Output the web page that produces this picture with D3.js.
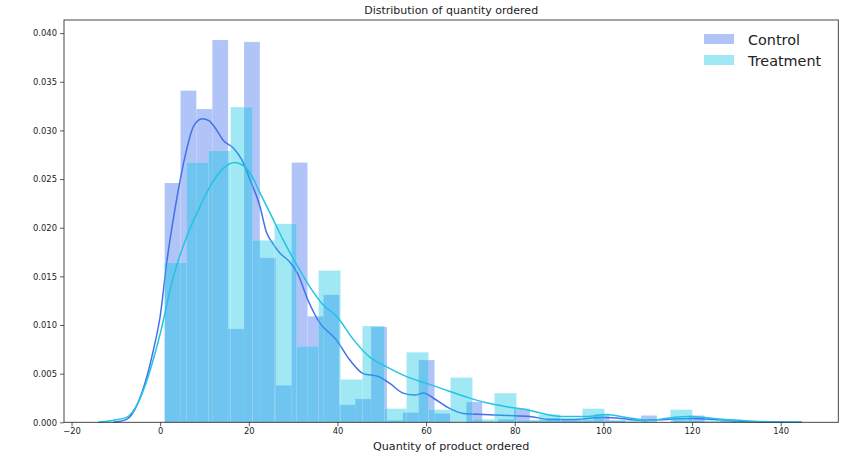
<!DOCTYPE html>
<html>
<head>
<meta charset="utf-8">
<script src="https://cdn.jsdelivr.net/npm/d3@7"></script>
<style>
  body { margin: 0; background: #fff; }
  text { font-family: "DejaVu Sans", sans-serif; fill: #222; }
</style>
</head>
<body>
<svg width="866" height="462"></svg>
<script>
const width = 866;
const height = 462;
const margin = { left: 64, right: 27.7, top: 20, bottom: 39.7 };

// Histogram bins (numpy style: equal width between min and max)
const controlBinRange = [1, 130];
const treatmentBinRange = [1, 130];

// Density per bin
const controlDensity = [
  0.0246, 0.0341, 0.0322, 0.0393, 0.0096, 0.0391, 0.0169, 0.0038, 0.0267,
  0.0109, 0.0131, 0.0018, 0.0024, 0.0098, 0.0002, 0.0010, 0.0064, 0.0009,
  0.0000, 0.0021, 0.0001, 0.0003, 0.0014, 0.0002, 0.0004, 0.0003, 0.0002,
  0.0008, 0.0002, 0.0000, 0.0007, 0.0000, 0.0002, 0.0007, 0.0000, 0.0002
];
const treatmentDensity = [
  0.0164, 0.0267, 0.0279, 0.0324, 0.0187, 0.0204, 0.0078, 0.0156, 0.0044,
  0.0099, 0.0014, 0.0072, 0.0013, 0.0046, 0.0003, 0.0030, 0.0002, 0.0008,
  0.0004, 0.0014, 0.0002, 0.0002, 0.0000, 0.0013, 0.0002, 0.0002
];

// KDE curves, points [x, density]
const controlKde = [
  [-10.6, 0], [-7.6, 0.0003], [-5, 0.0020], [-3, 0.0047], [-1.5, 0.0075],
  [0, 0.0109], [1.5, 0.0165], [3.3, 0.0218], [5.6, 0.0273], [7.5, 0.0304],
  [9.5, 0.0312], [11, 0.0310], [12.5, 0.0302], [14.2, 0.0290], [16.5, 0.0282],
  [18.4, 0.0270], [20.3, 0.0249], [22.5, 0.0222], [24, 0.0195], [25.4, 0.0184],
  [27, 0.0174], [29.2, 0.0165], [31, 0.0153], [33.3, 0.0126], [35.9, 0.0103],
  [39.7, 0.0085], [42.8, 0.0064], [45.8, 0.0050], [49.2, 0.0047], [51.8, 0.0040],
  [54.8, 0.0030], [57.5, 0.0028], [59.4, 0.0030], [61.6, 0.0025], [64.6, 0.0016],
  [68.4, 0.0009], [72.9, 0.0008], [78.2, 0.0007], [83.4, 0.0006], [87.9, 0.0003],
  [93, 0.0003], [99.9, 0.0005], [104, 0.0004], [108, 0.0002], [114, 0.0003],
  [120, 0.0004], [125, 0.0003], [130.8, 0.0001], [137, 0.00003], [144.8, 0]
];
const treatmentKde = [
  [-14, 0], [-10.5, 0.0002], [-7.6, 0.0005], [-5, 0.0020], [-3, 0.0043],
  [0, 0.0091], [3, 0.0150], [6, 0.0191], [8.6, 0.0218], [11.2, 0.0242],
  [14.2, 0.0261], [16.8, 0.0267], [18.7, 0.0264], [20.3, 0.0256], [22.5, 0.0236],
  [24.8, 0.0215], [27.8, 0.0187], [30.8, 0.0162], [33.8, 0.0139], [36.7, 0.0121],
  [39.8, 0.0109], [43.6, 0.0085], [47.3, 0.0067], [51.1, 0.0057], [55.6, 0.0047],
  [60.1, 0.0040], [64.6, 0.0033], [69.1, 0.0026], [73.6, 0.0020], [78.2, 0.0016],
  [82.7, 0.0013], [87.2, 0.0008], [90.2, 0.0006], [96.2, 0.0006], [100.7, 0.0008],
  [105.2, 0.0005], [110.5, 0.0002], [115.7, 0.0005], [119.5, 0.0006], [124.8, 0.0004],
  [130.8, 0.0002], [138.3, 0.00003], [144.8, 0]
];

const xTicks = [-20, 0, 20, 40, 60, 80, 100, 120, 140];
const yTicks = [0, 0.005, 0.01, 0.015, 0.02, 0.025, 0.03, 0.035, 0.04];
const seriesNames = ["Control", "Treatment"];

const colors = {
  control: "#3a6ced",
  treatment: "#12c6e3",
  controlLine: "#4370ea",
  treatmentLine: "#22c4e4",
  spine: "#333"
};

const svg = d3.select("svg");

const x = d3.scaleLinear()
  .domain([-21.7, 153.0])
  .range([margin.left, width - margin.right]);
const y = d3.scaleLinear()
  .domain([0, 0.04135])
  .range([height - margin.bottom, margin.top]);

// turn density list into bins with edges
function makeBins(range, values) {
  const w = (range[1] - range[0]) / values.length;
  return values.map((v, i) => ({ x0: range[0] + i * w, x1: range[0] + (i + 1) * w, v }));
}

const line = d3.line()
  .x(d => x(d[0]))
  .y(d => y(d[1]))
  .curve(d3.curveMonotoneX);

function drawBars(bins, color) {
  svg.append("g")
    .selectAll("rect")
    .data(bins.filter(d => d.v > 0))
    .join("rect")
    .attr("x", d => x(d.x0))
    .attr("width", d => x(d.x1) - x(d.x0))
    .attr("y", d => y(d.v))
    .attr("height", d => y(0) - y(d.v))
    .attr("fill", color)
    .attr("fill-opacity", 0.4)
    .attr("stroke", "#fff")
    .attr("stroke-opacity", 0.25)
    .attr("stroke-width", 0.5);
}

function drawKde(points, color) {
  svg.append("path")
    .datum(points)
    .attr("fill", "none")
    .attr("stroke", color)
    .attr("stroke-width", 1.5)
    .attr("d", line);
}

// seaborn order: hist + kde per group
drawBars(makeBins(controlBinRange, controlDensity), colors.control);
drawKde(controlKde, colors.controlLine);
drawBars(makeBins(treatmentBinRange, treatmentDensity), colors.treatment);
drawKde(treatmentKde, colors.treatmentLine);

// Axes
const xAxis = d3.axisBottom(x)
  .tickValues(xTicks)
  .tickSize(4)
  .tickPadding(2)
  .tickFormat(d => d < 0 ? "\u2212" + Math.abs(d) : d);
const yAxis = d3.axisLeft(y)
  .tickValues(yTicks)
  .tickSize(4)
  .tickPadding(3)
  .tickFormat(d3.format(".3f"));

const gx = svg.append("g")
  .attr("transform", `translate(0,${height - margin.bottom})`)
  .call(xAxis);
const gy = svg.append("g")
  .attr("transform", `translate(${margin.left},0)`)
  .call(yAxis);

[gx, gy].forEach(g => {
  g.select(".domain").remove();
  g.selectAll(".tick line").attr("stroke", colors.spine).attr("stroke-width", 0.8);
  g.selectAll(".tick text")
    .style("font-family", "DejaVu Sans, sans-serif")
    .style("font-size", "8.4px")
    .attr("fill", "#222");
});

// Spines (all four)
svg.append("rect")
  .attr("x", margin.left)
  .attr("y", margin.top)
  .attr("width", width - margin.left - margin.right)
  .attr("height", height - margin.top - margin.bottom)
  .attr("fill", "none")
  .attr("stroke", colors.spine)
  .attr("stroke-width", 0.9);

// Title and x label
svg.append("text")
  .attr("x", (margin.left + width - margin.right) / 2)
  .attr("y", 14)
  .attr("text-anchor", "middle")
  .style("font-size", "11px")
  .text("Distribution of quantity ordered");

svg.append("text")
  .attr("x", (margin.left + width - margin.right) / 2)
  .attr("y", 450)
  .attr("text-anchor", "middle")
  .style("font-size", "11.2px")
  .text("Quantity of product ordered");

// Legend
const legend = svg.append("g").attr("transform", "translate(704,34)");
const legendColors = [colors.control, colors.treatment];
seriesNames.forEach((name, i) => {
  const row = legend.append("g").attr("transform", `translate(0,${i * 21})`);
  row.append("rect")
    .attr("width", 30)
    .attr("height", 10)
    .attr("fill", legendColors[i])
    .attr("fill-opacity", 0.4);
  row.append("text")
    .attr("x", 44)
    .attr("y", 10.5)
    .style("font-size", "14.4px")
    .text(name);
});
</script>
</body>
</html>
